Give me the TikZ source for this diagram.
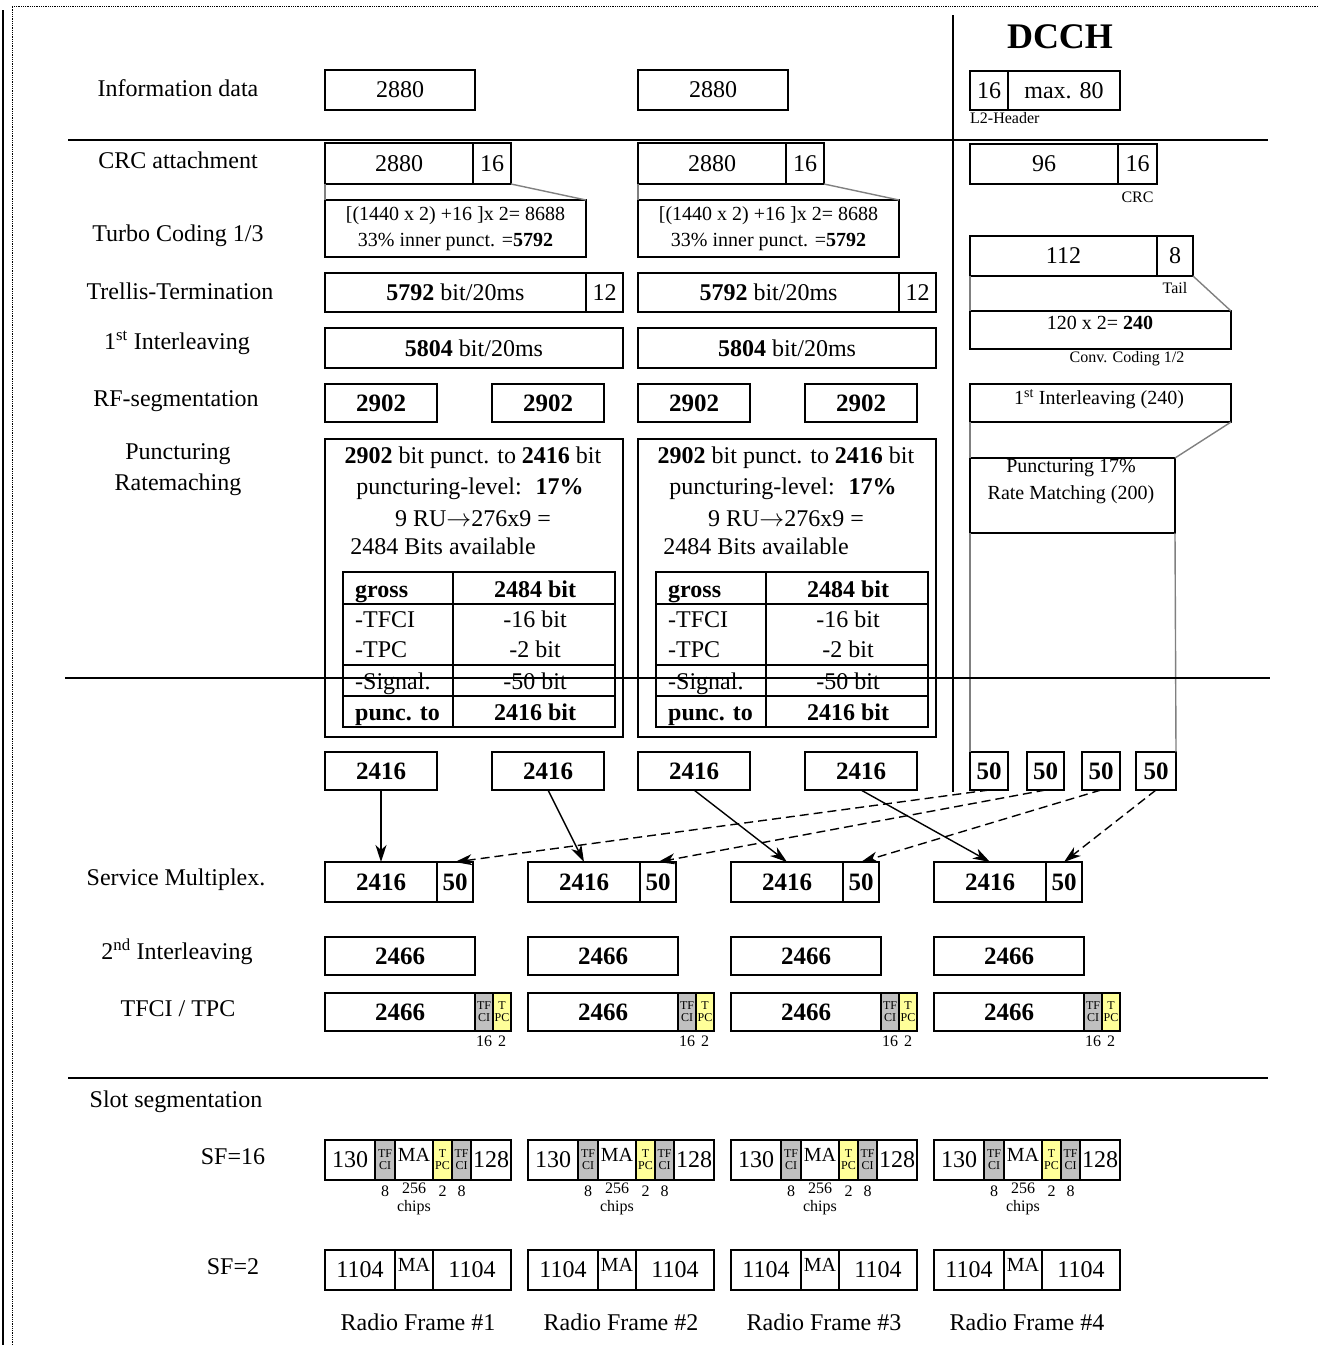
\documentclass[tikz,border=0pt]{standalone}
\usepackage{fontspec}
\setmainfont{Liberation Serif}
\usetikzlibrary{arrows.meta,positioning}
\definecolor{tfgray}{HTML}{C0C0C0}
\definecolor{tpcyellow}{HTML}{FFFF99}
\definecolor{linkgray}{HTML}{808080}
\tikzset{
  >={Stealth[length=17pt,width=11pt,inset=5pt]},
  % Kaesten
  bx/.style={draw,line width=1.5pt,inner sep=0pt,outer sep=0pt,
             minimum height=39pt,font=\fontsize{24}{29}\selectfont},
  bbx/.style={bx,font=\fontsize{25}{29}\selectfont\bfseries},
  tfc/.style={bx,fill=tfgray,align=center,font=\fontsize{12}{12}\selectfont},
  tpc/.style={bx,fill=tpcyellow,align=center,font=\fontsize{12}{12}\selectfont},
  % Texte
  lbl/.style={font=\fontsize{24}{31}\selectfont,align=center,inner sep=0pt},
  tx/.style={font=\fontsize{24}{29}\selectfont,inner sep=0pt,
             text height=16pt,text depth=0pt},
  tm/.style={font=\fontsize{20}{27}\selectfont,inner sep=0pt},
  sm/.style={font=\fontsize{16}{18}\selectfont,inner sep=0pt},
  % Linien
  link/.style={draw=linkgray,line width=1.4pt},
  hsep/.style={line width=1.6pt},
  tab/.style={line width=1.5pt},
  arr/.style={->,line width=1.4pt},
  darr/.style={->,line width=1.4pt,dash pattern=on 9pt off 5pt},
}

\begin{document}
\begin{tikzpicture}[x=1pt,y=-1pt]
\useasboundingbox (0,0) rectangle (1318,1345);
% Rahmen
\draw[densely dotted,line width=0.8pt] (12,1345) -- (12,6) -- (1318,6);
\draw[line width=2pt] (3,10) -- (3,1345);

% Zeilenbeschriftung
\node[lbl] (lInfo) at (178,88) {Information data};
\node[lbl] (lCrc) at (178,160) {CRC attachment};
\node[lbl] (lTurbo) at (178,236) {Turbo Coding 1/3};
\node[lbl] (lTrel) at (180,291) {Trellis-Termination};
\node[lbl] (lIl1) at (177,343) {1\textsuperscript{st} Interleaving};
\node[lbl] (lRf) at (176,401) {RF-segmentation};
\node[lbl] (lPunc) at (178,470) {Puncturing\\Ratemaching};
\node[lbl] (lMux) at (176,880) {Service Multiplex.};
\node[lbl] (lIl2) at (177,952) {2\textsuperscript{nd} Interleaving};
\node[lbl] (lTfci) at (178,1009) {TFCI / TPC};
\node[lbl] (lSlot) at (176,1102) {Slot segmentation};
\node[lbl] (lSf16) at (233,1157) {SF=16};
\node[lbl] (lSf2) at (233,1267) {SF=2};

% Datenkanaele
\foreach \c/\dx/\na/\nb in {1/0/1/2,2/313/3/4}{
\begin{scope}[xshift=\dx]
  \node[bx,minimum width=150,minimum height=40] (info\c) at (400,90) {2880};
  \node[bx,minimum width=148,minimum height=41] (crc\c) at (399,163.5) {2880};
  \node[bx,minimum width=38,minimum height=41,right=0pt of crc\c] (crct\c) {16};
  \node[bx,minimum width=261,minimum height=57,align=center,
        font=\fontsize{20}{26}\selectfont] (turbo\c) at (455.5,228.5)
        {[(1440 x 2) +16 ]x 2= 8688\\33\% inner punct. =\textbf{5792}};
  \draw[link] (crc\c.south west) -- (turbo\c.north west);
  \draw[link] (crct\c.south east) -- (turbo\c.north east);
  \node[bx,minimum width=261] (trel\c) at (455.5,292.5) {\textbf{5792} bit/20ms};
  \node[bx,minimum width=37,right=0pt of trel\c] (trelt\c) {12};
  \node[bx,minimum width=298,minimum height=40] (ila\c) at (474,348) {\textbf{5804} bit/20ms};
  \node[bbx,minimum width=112,minimum height=38] (rfa\c) at (381,403) {2902};
  \node[bbx,minimum width=112,minimum height=38] (rfb\c) at (548,403) {2902};
  % Punktierung
  \node[bx,minimum width=298,minimum height=298] (punc\c) at (474,588) {};
  \node[tx] (pl1\c) at (473,455) {\textbf{2902} bit punct. to \textbf{2416} bit};
  \node[tx] (pl2\c) at (470,486) {puncturing-level: \ \textbf{17\%}};
  \node[tx] (pl3\c) at (473,518) {9 RU$\rightarrow$276x9 =};
  \node[tx] (pl4\c) at (443,546) {2484 Bits available};
  \draw[tab] (343,572) rectangle (615,727);
  \draw[tab] (453,572) -- (453,727);
  \foreach \y in {604,665,696} \draw[tab] (343,\y) -- (615,\y);
  \foreach \y/\l/\r in {589/{\bfseries gross}/{\bfseries 2484 bit},
                        619/-TFCI/-16 bit, 649/-TPC/-2 bit,
                        681/-Signal./-50 bit,
                        712/{\bfseries punc. to}/{\bfseries 2416 bit}}{
    \node[tx,anchor=west] (tl\c\y) at (355,\y) {\l};
    \node[tx] (tr\c\y) at (535,\y) {\r};
  }
  \node[bbx,minimum width=112,minimum height=38] (p\na) at (381,771) {2416};
  \node[bbx,minimum width=112,minimum height=38] (p\nb) at (548,771) {2416};
\end{scope}
}

% DCCH
\node[font=\fontsize{36}{36}\selectfont\bfseries] (dcch) at (1060,37) {DCCH};
\node[bx,minimum width=38] (hdr) at (989,90.5) {16};
\node[bx,minimum width=112,right=0pt of hdr] (hdrb) {max. 80};
\node[sm,anchor=north west] (hdrL) at (970,112) {L2-Header};
\node[bx,minimum width=148,minimum height=40] (dcrc) at (1044,164) {96};
\node[bx,minimum width=39,minimum height=40,right=0pt of dcrc] (dcrct) {16};
\node[sm,below=8pt of dcrct] (dcrcL) {CRC};
\node[bx,minimum width=187,minimum height=40] (tail) at (1063.5,256) {112};
\node[bx,minimum width=36,minimum height=40,right=0pt of tail] (tailt) {8};
\node[sm,below=6pt of tailt] (tailL) {Tail};
\node[bx,minimum width=261,minimum height=38] (conv) at (1100.5,330) {};
\node[tm] (convT) at (1100,323) {120 x 2= \textbf{240}};
\draw[link] (tail.south west) -- (conv.north west);
\draw[link] (tailt.south east) -- (conv.north east);
\node[sm] (convL) at (1127,359) {Conv. Coding 1/2};
\node[bx,minimum width=261,minimum height=38] (dil) at (1100.5,403) {};
\node[tm] (dilT) at (1099,399) {1\textsuperscript{st} Interleaving (240)};
\node[bx,minimum width=205,minimum height=75] (dpun) at (1072.5,495.5) {};
\node[tm,align=center] (dpunT) at (1071,481) {Puncturing 17\%\\Rate Matching (200)};
\draw[link] (dil.south west) -- (dpun.north west);
\draw[link] (dil.south east) -- (dpun.north east);
\foreach \i/\x/\w in {1/989/38,2/1045.5/37,3/1101/38,4/1156/40}
  \node[bbx,minimum width=\w,minimum height=38] (d\i) at (\x,771) {50};
\draw[link] (dpun.south west) -- (d1.north west);
\draw[link] (dpun.south east) -- (d4.north east);

% Funkrahmen
\foreach \i/\x in {1/325,2/528,3/731,4/934}{
  \node[bbx,minimum width=112,minimum height=40,anchor=west] (mux\i) at (\x,882) {2416};
  \node[bbx,minimum width=36,minimum height=40,right=0pt of mux\i] (muxs\i) {50};
  \node[bbx,minimum width=150,minimum height=38,anchor=west] (ilb\i) at (\x,956) {2466};
  \node[bbx,minimum width=150,minimum height=38,anchor=west] (tfd\i) at (\x,1012) {2466};
  \node[tfc,minimum width=18,minimum height=38,right=0pt of tfd\i] (tfg\i) {TF\\CI};
  \node[tpc,minimum width=18,minimum height=38,right=0pt of tfg\i] (tfy\i) {T\\PC};
  \node[sm,below=5pt of tfg\i] (tfgN\i) {16};
  \node[sm,below=5pt of tfy\i] (tfyN\i) {2};
  % SF=16
  \node[bx,minimum width=50,minimum height=40,anchor=west] (sfa\i) at (\x,1160) {130};
  \node[tfc,minimum width=20,minimum height=40,right=0pt of sfa\i] (sfb\i) {TF\\CI};
  \node[bx,minimum width=38,minimum height=40,right=0pt of sfb\i,
        font=\fontsize{20}{20}\selectfont] (sfc\i) {\raisebox{11pt}{MA}};
  \node[tpc,minimum width=19,minimum height=40,right=0pt of sfc\i] (sfd\i) {T\\PC};
  \node[tfc,minimum width=19,minimum height=40,right=0pt of sfd\i] (sfe\i) {TF\\CI};
  \node[bx,minimum width=40,minimum height=40,right=0pt of sfe\i] (sff\i) {128};
  \node[sm,below=6pt of sfb\i] (sfbN\i) {8};
  \node[sm,below=3pt of sfc\i] (sfcN\i) {256};
  \node[sm,below=6pt of sfd\i] (sfdN\i) {2};
  \node[sm,below=6pt of sfe\i] (sfeN\i) {8};
  \node[sm,below=6pt of sfcN\i] (chips\i) {chips};
  % SF=2
  \node[bx,minimum width=70,minimum height=40,anchor=west] (sta\i) at (\x,1270) {1104};
  \node[bx,minimum width=38,minimum height=40,right=0pt of sta\i,
        font=\fontsize{20}{20}\selectfont] (stb\i) {\raisebox{11pt}{MA}};
  \node[bx,minimum width=78,minimum height=40,right=0pt of stb\i] (stc\i) {1104};
  \node[lbl] (rf\i) at (\x+93,1322) {Radio Frame \#\i};
}

% Pfeile
\foreach \i in {1,...,4}{
  \draw[arr] (p\i.south) -- (mux\i.north);
  \draw[darr] (d\i.south) -- (muxs\i.north);
}

% Trennlinien
\draw[hsep] (68,140) -- (1268,140);
\draw[hsep] (65,678) -- (1270,678);
\draw[hsep] (68,1078) -- (1268,1078);
\draw[hsep] (953,15) -- (953,792);
\end{tikzpicture}
\end{document}
